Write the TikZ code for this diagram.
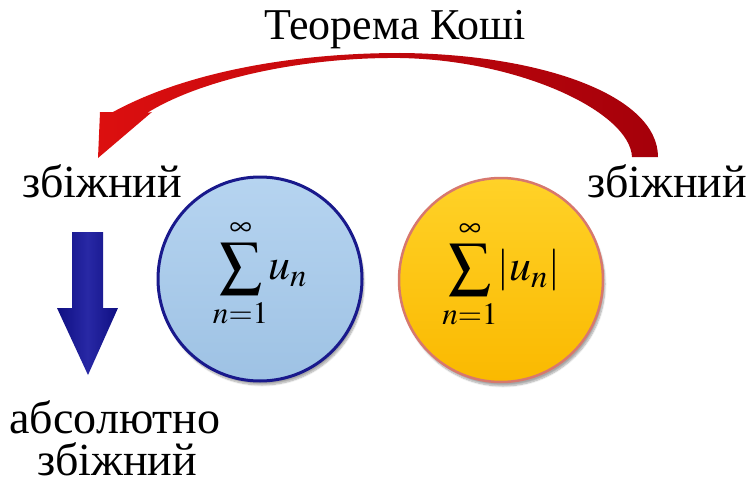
\documentclass[tikz,border=0pt]{standalone}
\usepackage{mathptmx}
\usepackage{fontspec}
\newfontfamily\lserif{Liberation Serif}
\usetikzlibrary{shadows.blur}
\definecolor{lblue}{RGB}{182,212,240}
\definecolor{lblueb}{RGB}{158,194,228}
\definecolor{dblue}{RGB}{25,25,140}
\definecolor{gold1}{RGB}{255,210,40}
\definecolor{gold2}{RGB}{250,185,0}
\definecolor{pinkb}{RGB}{215,120,110}
\definecolor{red1}{RGB}{220,15,15}
\definecolor{red2}{RGB}{165,0,10}
\definecolor{navy1}{RGB}{15,15,130}
\definecolor{navy2}{RGB}{40,40,165}
\newcommand{\bigun}{\mbox{\fontsize{44}{48}\selectfont$u_n$}}
\tikzset{
  lbl/.style={font=\lserif\fontsize{46}{50}\selectfont, inner sep=0pt, anchor=base},
  ball/.style={circle, minimum size=204pt, inner sep=0pt,
     blur shadow={shadow xshift=2pt, shadow yshift=-4pt, shadow blur steps=8, shadow opacity=35}},
  formula/.style={font=\fontsize{42}{46}\selectfont}
}
\begin{document}
\begin{tikzpicture}[x=1pt,y=-1pt]
\useasboundingbox (0,0) rectangle (751,484);
% title
\node[lbl, font=\lserif\fontsize{44}{48}\selectfont] (title) at (395,40) {Теорема Коші};
% labels
\node[lbl] (left) at (102,197) {збіжний};
\node[lbl] (right) at (667,197) {збіжний};
\node[lbl] (abs1) at (115,433) {абсолютно};
\node[lbl] (abs2) at (117,475) {збіжний};
% circles
\node[ball, draw=dblue, line width=3pt, top color=lblue, bottom color=lblueb] (c1) at (260,279) {};
\node[formula] (f1) at ([yshift=6pt]c1.center) {$\displaystyle\sum_{n=1}^{\infty}\!\bigun$};
\node[ball, draw=pinkb, line width=2.5pt, top color=gold1, bottom color=gold2] (c2) at (501,280) {};
\node[formula] (f2) at ([yshift=6pt]c2.center) {$\displaystyle\sum_{n=1}^{\infty}\!\left|\bigun\right|$};
% red curved arrow (Cauchy theorem)
\shade[left color=red1, right color=red2]
  (98,158) -- (100,112) -- (113,112)
  .. controls (190,70) and (300,53) .. (400,53)
  .. controls (540,54) and (658,95) .. (658,157)
  -- (632,157)
  .. controls (630,112) and (520,60) .. (400,58)
  .. controls (300,57) and (200,80) .. (147,113)
  -- (152,112) -- cycle;
% blue down arrow
\shade[left color=navy1, right color=navy1, middle color=navy2]
  (72,232) -- (103,232) -- (103,308) -- (118,308) -- (88,375) -- (57,308) -- (72,308) -- cycle;
\end{tikzpicture}
\end{document}
